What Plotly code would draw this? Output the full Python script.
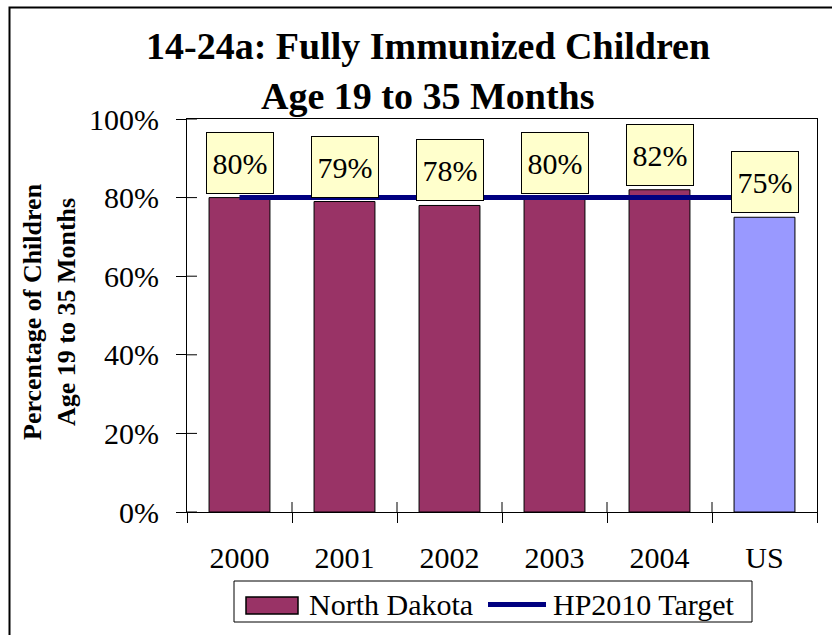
import plotly.graph_objects as go

# ---- data -------------------------------------------------------------
categories = ["2000", "2001", "2002", "2003", "2004", "US"]
immunized_pct = [80, 79, 78, 80, 82, 75]
target_pct = [80, 80, 80, 80, 80, 80]
series_name = "North Dakota"
target_name = "HP2010 Target"
y_ticks = [0, 20, 40, 60, 80, 100]
y_tick_text = [f"{v}%" for v in y_ticks]

# ---- styling ----------------------------------------------------------
SERIF = "Liberation Serif"
ND_COLOR = "#993366"
US_COLOR = "#9999FF"
TARGET_COLOR = "#000080"
LABEL_BG = "#FFFFCC"

W, H = 832, 635
M_L, M_R, M_T, M_B = 187, 15, 119, 123
PW, PH = W - M_L - M_R, H - M_T - M_B
TICK = 10  # half-length of the crossing tick marks


def px(x):
    """pixel column -> paper x"""
    return (x - M_L) / PW


def py(y):
    """pixel row -> paper y"""
    return (H - M_B - y) / PH


bar_colors = [US_COLOR if c == "US" else ND_COLOR for c in categories]
n = len(categories)
idx = list(range(n))

fig = go.Figure()

fig.add_trace(go.Bar(
    x=categories, y=immunized_pct,
    marker=dict(color=bar_colors, line=dict(color="black", width=1)),
    width=0.58, name=series_name, showlegend=False, hoverinfo="x+y",
))

fig.add_trace(go.Scatter(
    x=categories, y=target_pct, mode="lines",
    line=dict(color=TARGET_COLOR, width=5),
    name=target_name, showlegend=False,
))

# value labels in pale yellow boxes above each bar
for i, v in zip(idx, immunized_pct):
    fig.add_annotation(
        x=i, y=v, xref="x", yref="y", text=f"{v}%", showarrow=False,
        yanchor="bottom", yshift=4, width=66, height=60, valign="middle",
        bgcolor=LABEL_BG, bordercolor="black", borderwidth=1, borderpad=0,
        font=dict(family=SERIF, size=30, color="black"),
    )

# two-line bold title
for text, yc in (("14-24a: Fully Immunized Children", 46),
                 ("Age 19 to 35 Months", 96)):
    fig.add_annotation(
        x=px(428), y=py(yc), xref="paper", yref="paper", text=text,
        showarrow=False, xanchor="center", yanchor="middle",
        font=dict(family=SERIF, size=38, color="black", weight="bold"),
    )

# y-axis title
fig.add_annotation(
    x=px(49), y=py(312), xref="paper", yref="paper",
    text="Percentage of Children<br>Age 19 to 35 Months",
    textangle=-90, showarrow=False, xanchor="center", yanchor="middle",
    font=dict(family=SERIF, size=26, color="black", weight="bold"),
)

shapes = [
    # frame round the whole chart
    dict(type="rect", xref="paper", yref="paper",
         x0=px(9.5), x1=px(W + 20), y0=py(7.5), y1=py(H + 20),
         line=dict(color="black", width=2), fillcolor="rgba(0,0,0,0)", layer="below"),
]

# inner halves of the crossing tick marks
for v in y_ticks:
    shapes.append(dict(type="line", xref="paper", yref="y",
                       x0=0, x1=TICK / PW, y0=v, y1=v,
                       line=dict(color="black", width=1)))
for b in [i - 0.5 for i in range(1, n)]:
    shapes.append(dict(type="line", xref="x", yref="paper",
                       x0=b, x1=b, y0=0, y1=TICK / PH,
                       line=dict(color="black", width=1)))

# legend
shapes += [
    dict(type="rect", xref="paper", yref="paper",
         x0=px(234), x1=px(752), y0=py(581), y1=py(622),
         line=dict(color="black", width=1), fillcolor="white"),
    dict(type="rect", xref="paper", yref="paper",
         x0=px(246), x1=px(298), y0=py(597), y1=py(614),
         line=dict(color="black", width=1.5), fillcolor=ND_COLOR),
    dict(type="line", xref="paper", yref="paper",
         x0=px(488), x1=px(546), y0=py(604.5), y1=py(604.5),
         line=dict(color=TARGET_COLOR, width=5)),
]
fig.add_annotation(x=px(307), y=py(604), xref="paper", yref="paper",
                   text=series_name, showarrow=False, xanchor="left", yanchor="middle",
                   font=dict(family=SERIF, size=30, color="black"))
fig.add_annotation(x=px(551), y=py(604), xref="paper", yref="paper",
                   text=target_name, showarrow=False, xanchor="left", yanchor="middle",
                   font=dict(family=SERIF, size=30, color="black"))

fig.update_layout(
    width=W, height=H,
    margin=dict(l=M_L, r=M_R, t=M_T, b=M_B, pad=0),
    paper_bgcolor="white", plot_bgcolor="white",
    showlegend=False,
    shapes=shapes,
    xaxis=dict(
        type="category", categoryorder="array", categoryarray=categories,
        range=[-0.5, n - 0.5],
        showline=True, linecolor="black", linewidth=1, mirror=True,
        ticks="outside", tickson="boundaries", ticklen=TICK, tickcolor="black",
        ticklabelstandoff=19,
        tickfont=dict(family=SERIF, size=30, color="black"),
        showgrid=False, zeroline=False, fixedrange=True,
    ),
    yaxis=dict(
        range=[0, 100], tickmode="array", tickvals=y_ticks, ticktext=y_tick_text,
        showline=True, linecolor="black", linewidth=1, mirror=True,
        ticks="outside", ticklen=TICK, tickcolor="black",
        ticklabelstandoff=11,
        tickfont=dict(family=SERIF, size=30, color="black"),
        showgrid=False, zeroline=False, fixedrange=True,
    ),
)

fig.write_html("out.html")
